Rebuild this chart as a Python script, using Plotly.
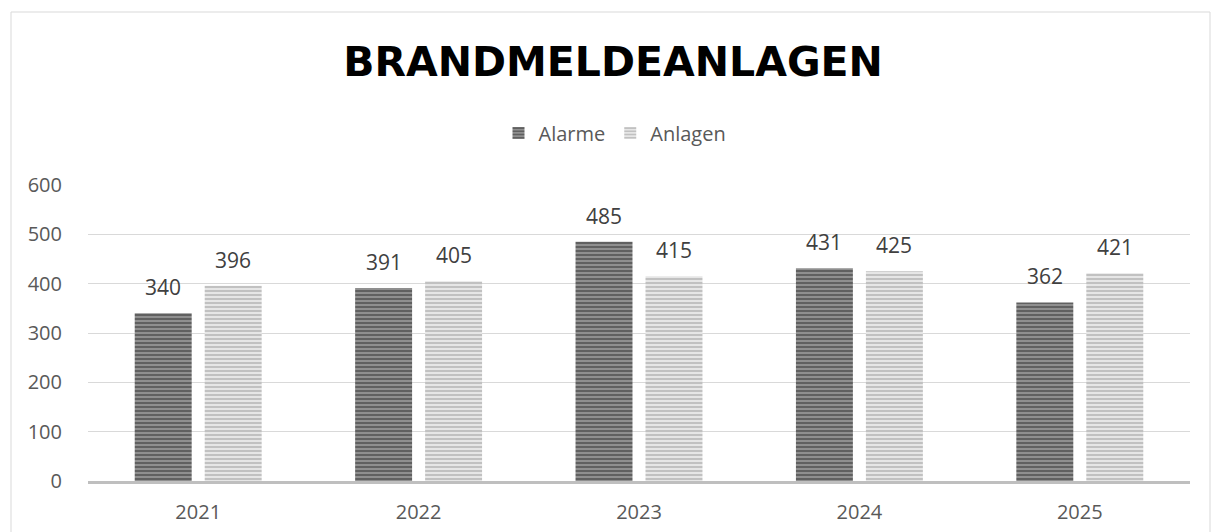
import plotly.graph_objects as go

years = ["2021", "2022", "2023", "2024", "2025"]
alarme = [340, 391, 485, 431, 362]
anlagen = [396, 405, 415, 425, 421]
series_names = ["Alarme", "Anlagen"]
title_text = "BRANDMELDEANLAGEN"
y_ticks = [0, 100, 200, 300, 400, 500, 600]

fig = go.Figure()
fig.add_trace(go.Bar(
    name=series_names[0], x=years, y=alarme,
    marker=dict(color="#8c8c8c", line=dict(width=0),
                pattern=dict(shape="-", fgcolor="#5a5a5a", bgcolor="#8f8f8f",
                             size=4, solidity=0.45, fillmode="replace")),
))
fig.add_trace(go.Bar(
    name=series_names[1], x=years, y=anlagen,
    marker=dict(color="#e6e6e6", line=dict(width=0),
                pattern=dict(shape="-", fgcolor="#bdbdbd", bgcolor="#e6e6e6",
                             size=4, solidity=0.45, fillmode="replace")),
))

annotations = []
for vals, shift in ((alarme, -35), (anlagen, 35)):
    for i, v in enumerate(vals):
        annotations.append(dict(
            x=i, y=v, xref="x", yref="y", text=str(v), showarrow=False,
            xshift=shift, yshift=10, yanchor="bottom",
            font=dict(family="Open Sans, Calibri, sans-serif", size=21, color="#404040"),
        ))

fig.update_layout(
    width=1211, height=532,
    margin=dict(l=88, r=21, t=185, b=51, autoexpand=False),
    paper_bgcolor="white", plot_bgcolor="white",
    barmode="group", bargap=0.365, bargroupgap=0.186,
    title=dict(text="<b>" + title_text + "</b>", x=(613 - 88) / 1102, xref="paper",
               xanchor="center", y=1 - 62 / 532, yref="container", yanchor="middle",
               font=dict(family="DejaVu Sans", size=41, color="#000000")),
    legend=dict(orientation="h", x=(615 - 88) / 1102, xanchor="center", y=1.176,
                yanchor="middle",
                font=dict(family="Open Sans, sans-serif", size=20, color="#595959"),
                itemwidth=30, traceorder="normal"),
    annotations=annotations,
    font=dict(family="Open Sans, sans-serif", color="#595959"),
    shapes=[dict(type="rect", xref="paper", yref="paper",
                 x0=(11 - 88) / 1102, x1=(1210 - 88) / 1102,
                 y0=-0.3, y1=(481 - 12) / 296,
                 line=dict(color="#d9d9d9", width=1), fillcolor="rgba(0,0,0,0)", layer="below")],
)
fig.update_yaxes(range=[0, 600], tickvals=y_ticks, showgrid=True, gridcolor="#d9d9d9",
                 gridwidth=1, zeroline=False, showline=False, automargin=False,
                 tickfont=dict(size=20, color="#595959"), ticks="", ticklabelstandoff=25)
fig.update_xaxes(type="category", range=[-0.5, len(years) - 0.5], showline=True,
                 linecolor="#bfbfbf", linewidth=3, ticks="", automargin=False,
                 tickfont=dict(size=20, color="#595959"), ticklabelstandoff=11)

fig.write_html("out.html", post_script="document.body.style.margin='0';",
               config={"displayModeBar": False})
